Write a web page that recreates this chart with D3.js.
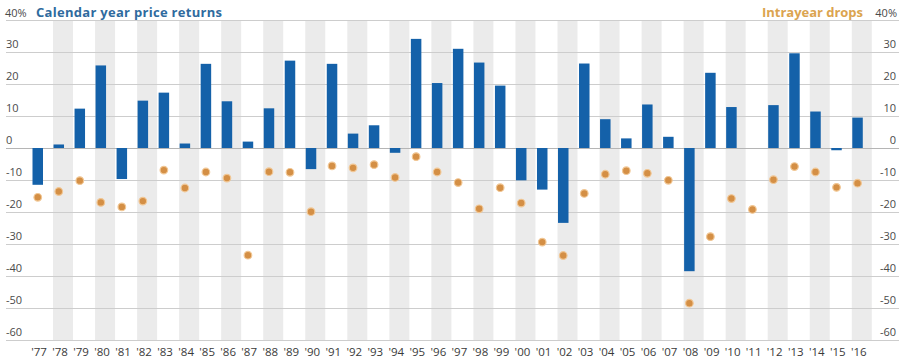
<!DOCTYPE html>
<html><head><meta charset="utf-8">
<script src="https://cdn.jsdelivr.net/npm/d3@7"></script>
<style>
html,body{margin:0;padding:0;background:#fff;}
svg{display:block;font-family:"Open Sans",sans-serif;}
</style></head>
<body><svg id="c" width="904" height="362"></svg>
<script>
const years = ["'77","'78","'79","'80","'81","'82","'83","'84","'85","'86","'87","'88","'89","'90","'91","'92","'93","'94","'95","'96","'97","'98","'99","'00","'01","'02","'03","'04","'05","'06","'07","'08","'09","'10","'11","'12","'13","'14","'15","'16"];
const priceReturns = [-11.5,1.1,12.3,25.8,-9.7,14.8,17.3,1.4,26.3,14.6,2.0,12.4,27.3,-6.6,26.3,4.5,7.1,-1.5,34.1,20.3,31.0,26.7,19.5,-10.1,-13.0,-23.4,26.4,9.0,3.0,13.6,3.5,-38.5,23.5,12.8,0.0,13.4,29.6,11.4,-0.7,9.5];
const intrayearDrops = [-15.4,-13.6,-10.2,-17,-18.4,-16.6,-6.9,-12.5,-7.5,-9.4,-33.5,-7.4,-7.6,-19.9,-5.6,-6.2,-5.2,-9.2,-2.7,-7.5,-10.8,-19,-12.4,-17.2,-29.4,-33.6,-14.2,-8.2,-7.1,-7.9,-10.1,-48.5,-27.7,-15.8,-19.2,-9.9,-5.8,-7.5,-12.3,-11.0];
const yTicks = [-60,-50,-40,-30,-20,-10,0,10,20,30];
const titleLeft = "Calendar year price returns";
const titleRight = "Intrayear drops";

const svg = d3.select("#c");
const y = d3.scaleLinear().domain([-60,40]).range([340,20]);
const x = d3.scaleBand().domain(years).range([32.5, 32.5+40*21.02]).padding(0);

// alternating grey bands
svg.append("g").selectAll("rect").data(years.filter((d,i)=>i%2===1)).join("rect")
  .attr("x", d=>x(d)-0.5).attr("width", 20)
  .attr("y", y(40)+1).attr("height", y(-60)-y(40)-1)
  .attr("fill", "#ebebeb");

// gridlines
const allTicks = yTicks.concat([40]);
svg.append("g").selectAll("line").data(allTicks).join("line")
  .attr("x1", 6).attr("x2", 899)
  .attr("y1", d=>y(d)+0.5).attr("y2", d=>y(d)+0.5)
  .attr("stroke", d=> d===0 ? "#b5b5b5" : "#cdcdcd").attr("stroke-width", 1);

// tick labels
const lab = svg.append("g").attr("font-size", 11).attr("fill", "#4a4a4a");
lab.selectAll("text.l").data(yTicks).join("text").attr("class","l")
  .attr("x", 6).attr("y", d=>y(d)-4).text(d=>d);
lab.selectAll("text.r").data(yTicks).join("text").attr("class","r")
  .attr("x", 896).attr("y", d=>y(d)-4).attr("text-anchor","end").text(d=>d);
lab.append("text").attr("x",5).attr("y",y(40)-3).text("40%");
lab.append("text").attr("x",897).attr("y",y(40)-3).attr("text-anchor","end").text("40%");

svg.append("text").attr("x",36).attr("y",y(40)-3).attr("font-size",13).attr("font-weight","bold")
  .attr("fill","#2f6b9e").attr("textLength",186).text(titleLeft);
svg.append("text").attr("x",762).attr("y",y(40)-3).attr("font-size",13).attr("font-weight","bold")
  .attr("fill","#dba44f").attr("textLength",101).text(titleRight);

// bars
svg.append("g").selectAll("rect").data(years).join("rect")
  .attr("x", d=>x(d)).attr("width", 10.5)
  .attr("y", (d,i)=> y(Math.max(0, priceReturns[i])))
  .attr("height", (d,i)=> Math.abs(y(priceReturns[i]) - y(0)))
  .attr("fill", "#1461a9");

// dots
svg.append("g").selectAll("circle").data(years).join("circle")
  .attr("cx", d=>x(d)+5.25).attr("cy", (d,i)=>y(intrayearDrops[i]))
  .attr("r", 3.8).attr("fill", "#d48f45")
  .attr("stroke", "#f1c795").attr("stroke-width", 1.2);

// x labels
svg.append("g").attr("font-size", 11.5).attr("fill", "#3a3a3a")
  .selectAll("text").data(years).join("text")
  .attr("x", d=>x(d)+6.5).attr("y", 356).attr("text-anchor","middle").text(d=>d);
</script></body></html>
